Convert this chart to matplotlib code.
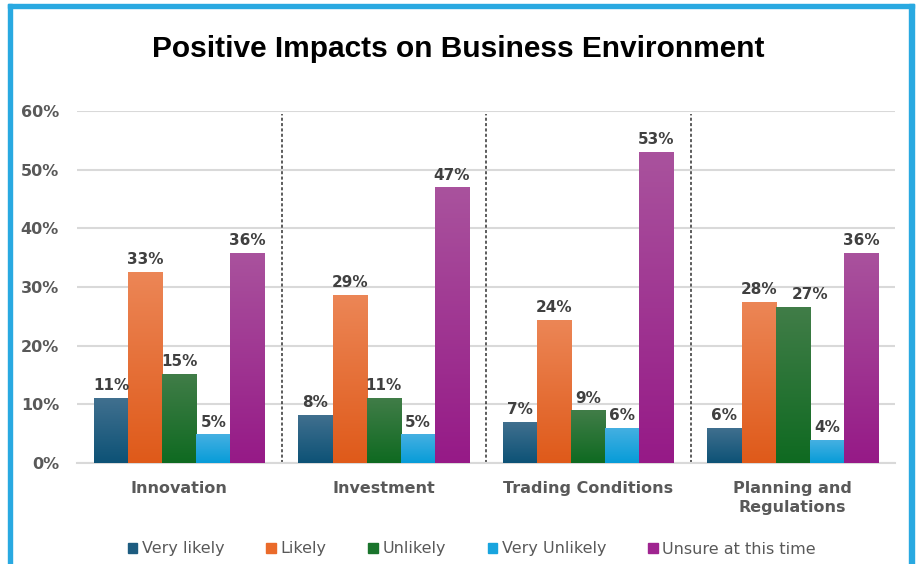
import numpy as np
import matplotlib
matplotlib.use('Agg')
import matplotlib.pyplot as plt
from matplotlib.patches import Rectangle
from matplotlib.colors import to_rgb

# data (fractions)
categories = ['Innovation', 'Investment', 'Trading Conditions', 'Planning and\nRegulations']
series     = ['Very likely', 'Likely', 'Unlikely', 'Very Unlikely', 'Unsure at this time']
very_likely   = [0.111, 0.082, 0.070, 0.060]
likely        = [0.326, 0.287, 0.244, 0.275]
unlikely      = [0.152, 0.111, 0.090, 0.266]
very_unlikely = [0.049, 0.049, 0.060, 0.039]
unsure        = [0.358, 0.470, 0.530, 0.358]
yticks        = [0, 0.1, 0.2, 0.3, 0.4, 0.5, 0.6]

values  = [very_likely, likely, unlikely, very_unlikely, unsure]
base    = ['#1d5c80', '#ea6a2a', '#1a742c', '#18a4de', '#9f2490']   # legend / solid colours
tops    = ['#41708f', '#ec8656', '#417d48', '#45b0e2', '#a9529d']   # gradient top
bottoms = ['#0d5276', '#df5a1a', '#0f6a21', '#079cd8', '#961a87']   # gradient bottom

W, H = 917, 564
fig = plt.figure(figsize=(W/100, H/100), dpi=100)
ax  = fig.add_axes([77/W, 1-463/H, (895-77)/W, (463-111)/H])

x     = np.arange(len(categories))
width = 0.167                               # width of a single bar (group spacing = 1)
gray  = '#595959'

for i, (vals, c) in enumerate(zip(values, base)):
    pos  = x + (i - 2) * width
    bars = ax.bar(pos, vals, width, color=c, label=series[i], zorder=2)
    # vertical gradient painted inside each bar
    t, b = np.array(to_rgb(tops[i])), np.array(to_rgb(bottoms[i]))
    grad = np.linspace(0, 1, 64)[:, None, None] * (t - b) + b       # row 0 = bottom
    for j, (p, v, bar) in enumerate(zip(pos, vals, bars)):
        im = ax.imshow(grad, extent=[p - width/2, p + width/2, 0, v], origin='lower',
                       aspect='auto', zorder=3, interpolation='bilinear')
        im.set_clip_path(bar)
        nudge = 0.085 if (i == 2 and j == 3) else 0   # 27% label sits right of its bar
        ax.text(p + nudge, v + 0.008, '%d%%' % round(v * 100), ha='center', va='bottom',
                fontsize=11, fontweight='bold', color='#404040', zorder=4)

# dashed separators between the groups
for d in x[:-1] + 0.5:
    ax.plot([d, d], [0, 0.595], ls=(0, (2, 1.5)), color='#303030', lw=1.1, zorder=1)

ax.set_xlim(-0.5, len(categories) - 0.5)
ax.set_ylim(0, 0.6)
ax.set_yticks(yticks)
ax.set_yticklabels(['%d%%' % round(v * 100) for v in yticks])
ax.set_xticks(x)
ax.set_xticklabels(categories, linespacing=1.3)
ax.tick_params(length=0, colors=gray, labelsize=11.5)
ax.tick_params(axis='y', pad=13)
ax.tick_params(axis='x', pad=13)
for lab in ax.get_xticklabels() + ax.get_yticklabels():
    lab.set_fontweight('bold')

ax.grid(axis='y', color='#d9d9d9', lw=1.5, zorder=0)
ax.set_axisbelow(True)
for s in ['top', 'right', 'left']:
    ax.spines[s].set_visible(False)
ax.spines['bottom'].set_color('#d9d9d9')
ax.spines['bottom'].set_linewidth(1.5)

fig.text(0.5, 1-49/H, 'Positive Impacts on Business Environment', ha='center', va='center',
         fontsize=21.5, fontweight='bold', family='Liberation Sans', color='black')

handles = [Rectangle((0, 0), 1, 1, color=c) for c in base]
fig.legend(handles, series, loc='center', bbox_to_anchor=(472/W, 1-549/H), ncol=5,
           frameon=False, fontsize=11.5, labelcolor=gray, handlelength=0.6, handleheight=0.6,
           handletextpad=0.3, columnspacing=2.6)

# light blue frame around the chart (left, top, right)
fc = '#29a9e1'
fig.add_artist(Rectangle((8/W, 0), 4/W, 1-4/H, transform=fig.transFigure, color=fc))
fig.add_artist(Rectangle((8/W, 1-8/H), (914-8)/W, 4/H, transform=fig.transFigure, color=fc))
fig.add_artist(Rectangle((909/W, 0), 5/W, 1-4/H, transform=fig.transFigure, color=fc))

fig.savefig('out.png', dpi=100, facecolor='white')
